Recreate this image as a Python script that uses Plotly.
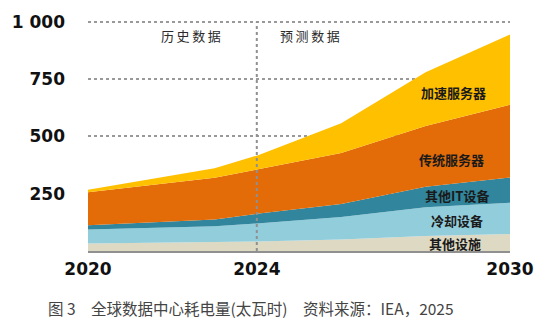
import plotly.graph_objects as go

years = [2020, 2023, 2024, 2026, 2028, 2030]
other_facilities = [33, 37, 41, 50, 65, 74]
cooling = [61, 71, 79, 98, 126, 137]
other_it = [18, 29, 42, 57, 89, 110]
conventional_servers = [144, 183, 193, 223, 265, 317]
accelerated_servers = [11, 41, 61, 129, 235, 306]

series = [
    ("其他设施", other_facilities, "#DDD9C3"),
    ("冷却设备", cooling, "#92CDDC"),
    ("其他IT设备", other_it, "#31859C"),
    ("传统服务器", conventional_servers, "#E36C09"),
    ("加速服务器", accelerated_servers, "#FFC000"),
]

y_ticks = [250, 500, 750, 1000]
y_ticktext = ["250", "500", "750", "1 000"]
x_ticks = [2020, 2024, 2030]

fig = go.Figure()
for name, vals, color in series:
    fig.add_trace(go.Scatter(
        x=years, y=vals, name=name, stackgroup="one",
        mode="lines", line=dict(width=0, color=color),
        fillcolor=color, hoverinfo="skip"))

labels = [
    ("加速服务器", 2028.66, 690),
    ("传统服务器", 2028.61, 397),
    ("其他IT设备", 2028.75, 241),
    ("冷却设备", 2028.75, 134),
    ("其他设施", 2028.70, 34),
]
annotations = []
for text, x, y in labels:
    annotations.append(dict(x=x, y=y, xref="x", yref="y", text=text, showarrow=False,
                            font=dict(family="Noto Sans CJK SC", size=13, color="#1a1a1a", weight="bold")))
annotations.append(dict(x=2022.43, y=940, xref="x", yref="y", text="历\u2009史\u2009数\u2009据", showarrow=False,
                        font=dict(family="Noto Sans CJK SC", size=13, color="#2a2a2a")))
annotations.append(dict(x=2025.26, y=940, xref="x", yref="y", text="预\u2009测\u2009数\u2009据", showarrow=False,
                        font=dict(family="Noto Sans CJK SC", size=13, color="#2a2a2a")))
annotations.append(dict(x=(250 - 86) / 424, y=(251 - 309) / 235, xref="paper", yref="paper",
                        xanchor="center", yanchor="middle",
                        text="图 3　全球数据中心耗电量(太瓦时)　资料来源：IEA，2025",
                        showarrow=False,
                        font=dict(family="Noto Sans CJK SC", size=15.5, color="#444444")))

fig.update_layout(
    width=550, height=328,
    margin=dict(l=86, r=40, t=16, b=77),
    paper_bgcolor="white", plot_bgcolor="white",
    showlegend=False,
    annotations=annotations,
    shapes=[dict(type="line", xref="x", yref="y", x0=2024, x1=2024, y0=0, y1=1000,
                 line=dict(color="#909090", width=2, dash="dot"), layer="above")],
    xaxis=dict(range=[2020, 2030], tickvals=x_ticks, ticktext=[str(v) for v in x_ticks],
               showgrid=False, zeroline=False, showline=True, linecolor="#909090", linewidth=1.5,
               ticks="", ticklabelstandoff=2,
               tickfont=dict(family="DejaVu Sans", size=17, color="#111111", weight="bold")),
    yaxis=dict(range=[0, 1012], tickvals=y_ticks, ticktext=y_ticktext,
               showgrid=True, gridcolor="#999999", griddash="dot", gridwidth=1.5,
               zeroline=False, ticks="", ticklabelstandoff=22,
               tickfont=dict(family="DejaVu Sans", size=17, color="#111111", weight="bold")),
)

fig.write_html("out.html")
